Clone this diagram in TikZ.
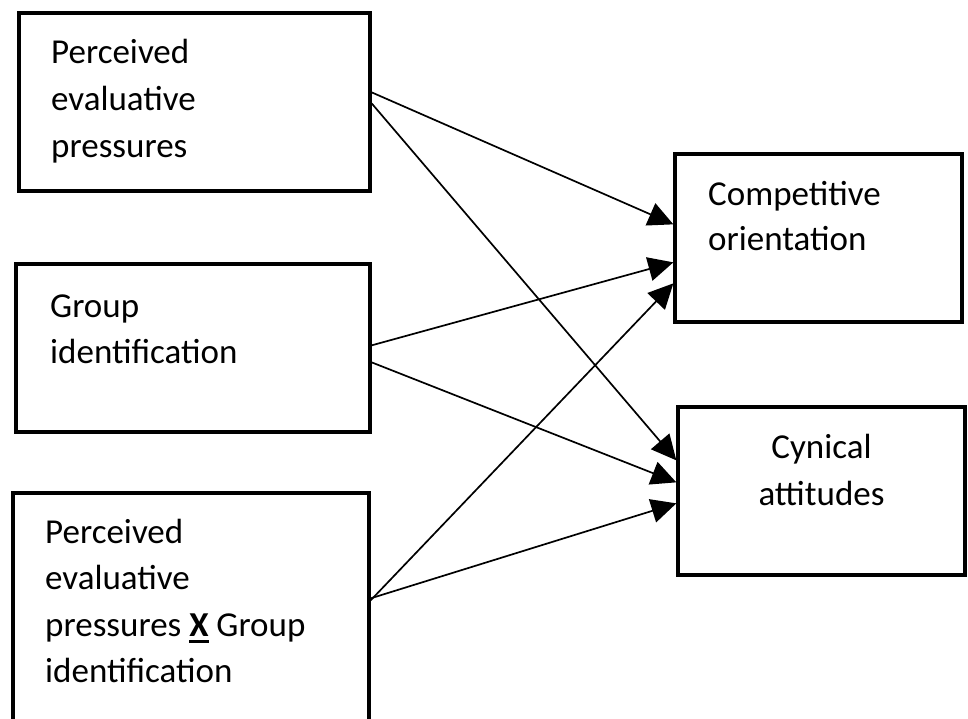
\documentclass[tikz,border=0pt]{standalone}
\usepackage{fontspec}
\setmainfont{Carlito}
\usetikzlibrary{arrows.meta,calc}
\newsavebox\xbox
\newcommand\ulx{\sbox\xbox{\textbf{X}}\usebox\xbox\llap{\rule[-7pt]{\wd\xbox}{3.3pt}}}
\begin{document}
\begin{tikzpicture}[x=1pt,y=-1pt,
  box/.style={draw=black,line width=3.3pt,rectangle,inner sep=0pt},
  txt/.style={anchor=base west,inner sep=0pt,font=\fontsize{35}{46.5}\selectfont},
  ctxt/.style={anchor=base,inner sep=0pt,font=\fontsize{35}{46.5}\selectfont},
  conn/.style={draw=black,line width=1.7pt,-{Triangle[length=25pt,width=24pt]}}]
\useasboundingbox (0,0) rectangle (968,718);
\clip (0,0) rectangle (968,718);
\fill[white] (0,0) rectangle (968,718);
% boxes
\node[box,minimum width=351pt,minimum height=178pt] (b1) at (194.5,102) {};
\node[box,minimum width=354pt,minimum height=168pt] (b2) at (193,348) {};
\node[box,minimum width=356pt,minimum height=280pt] (b3) at (191,633) {};
\node[box,minimum width=287pt,minimum height=168pt] (b4) at (818.5,238) {};
\node[box,minimum width=287pt,minimum height=168pt] (b5) at (821.5,491) {};
% texts
\node[txt] (t1a) at (51,63) {Perceived};
\node[txt] (t1b) at (51,110) {evaluative};
\node[txt] (t1c) at (51,157) {pressures};
\node[txt] (t2a) at (50,317) {Group};
\node[txt] (t2b) at (50,363) {identification};
\node[txt] (t3a) at (45,543) {Perceived};
\node[txt] (t3b) at (45,589) {evaluative};
\node[txt] (t3c) at (45,636) {pressures \ulx{} Group};
\node[txt] (t3d) at (45,682) {identification};
\node[txt] (t4a) at (708,205) {Competitive};
\node[txt] (t4b) at (708,250) {orientation};
\node[ctxt] (t5a) at (821.5,458) {Cynical};
\node[ctxt] (t5b) at (821.5,505) {attitudes};
% connectors
\draw[conn] ($(b1.north east)+(0,81)$) -- ($(b4.north west)+(0,72)$);
\draw[conn] ($(b1.north east)+(0,92)$) -- ($(b5.north west)+(0,55)$);
\draw[conn] ($(b2.north east)+(0,83)$) -- ($(b4.north west)+(0,110)$);
\draw[conn] ($(b2.north east)+(0,100)$) -- ($(b5.north west)+(0,77)$);
\draw[conn] ($(b3.north east)+(0,109)$) -- ($(b4.north west)+(0,131)$);
\draw[conn] ($(b3.north east)+(0,107)$) -- ($(b5.north west)+(0,98)$);
\end{tikzpicture}
\end{document}
